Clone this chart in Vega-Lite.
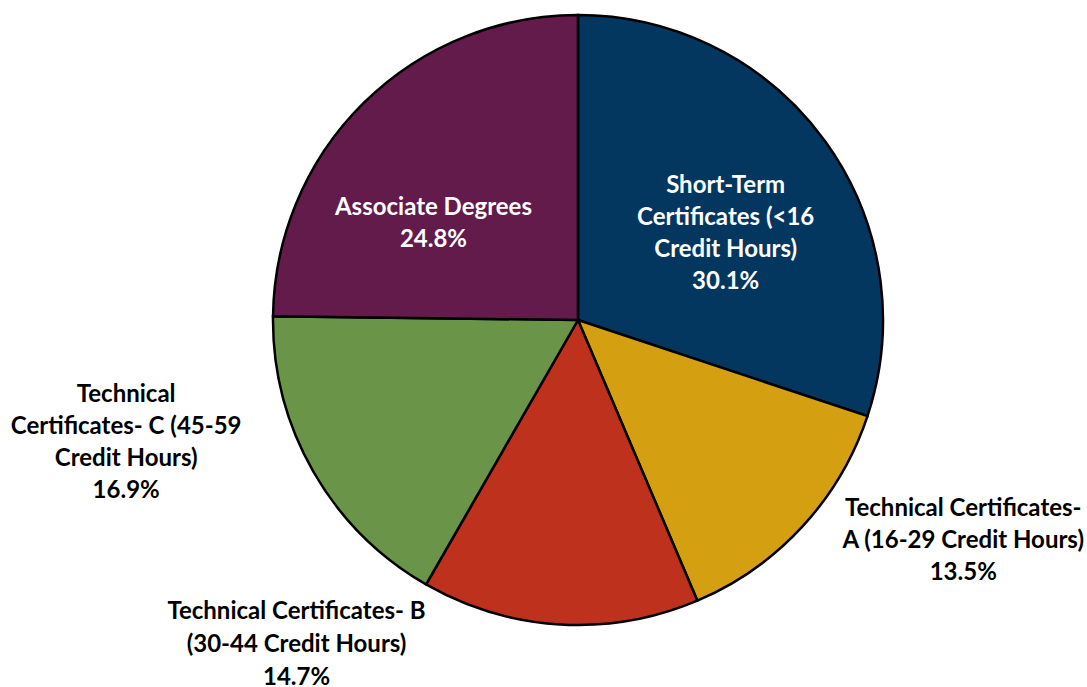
{
  "$schema": "https://vega.github.io/schema/vega-lite/v6.json",
  "autosize": "none",
  "width": 1087,
  "height": 687,
  "padding": 0,
  "background": "white",
  "config": {"view": {"stroke": null}},
  "data": {
    "values": [
      {"idx": 1, "cat": "Short-Term", "value": 30.1, "label": "Short-Term\nCertificates (<16\nCredit Hours)\n30.1%"},
      {"idx": 2, "cat": "TechA", "value": 13.5, "label": "Technical Certificates-\nA (16-29 Credit Hours)\n13.5%"},
      {"idx": 3, "cat": "TechB", "value": 14.7, "label": "Technical Certificates- B\n(30-44 Credit Hours)\n14.7%"},
      {"idx": 4, "cat": "TechC", "value": 16.9, "label": "Technical\nCertificates- C (45-59\nCredit Hours)\n16.9%"},
      {"idx": 5, "cat": "Associate", "value": 24.8, "label": "Associate Degrees\n24.8%"}
    ]
  },
  "encoding": {
    "theta": {"field": "value", "type": "quantitative", "stack": true},
    "order": {"field": "idx", "type": "quantitative"}
  },
  "layer": [
    {
      "mark": {"type": "arc", "x": 578, "y": 320, "outerRadius": 305, "stroke": "black", "strokeWidth": 2.5},
      "encoding": {
        "color": {
          "field": "cat", "type": "nominal", "legend": null,
          "scale": {
            "domain": ["Short-Term", "TechA", "TechB", "TechC", "Associate"],
            "range": ["#03375F", "#D4A012", "#BE311C", "#6A9447", "#621B4B"]
          }
        }
      }
    },
    {
      "mark": {"type": "text", "x": 578, "y": 320, "radius": 171, "dx": 9, "dy": -34, "lineBreak": "\n", "lineHeight": 32, "font": "Lato", "fontWeight": "bold", "fontSize": 24, "align": "center", "baseline": "middle", "color": "white"},
      "encoding": {"text": {"condition": {"test": "datum.cat === 'Short-Term'", "field": "label"}, "value": ""}}
    },
    {
      "mark": {"type": "text", "x": 578, "y": 320, "radius": 173, "dx": -23, "dy": 11, "lineBreak": "\n", "lineHeight": 32, "font": "Lato", "fontWeight": "bold", "fontSize": 24, "align": "center", "baseline": "middle", "color": "white"},
      "encoding": {"text": {"condition": {"test": "datum.cat === 'Associate'", "field": "label"}, "value": ""}}
    },
    {
      "mark": {"type": "text", "x": 578, "y": 320, "radius": 445, "dx": 58, "dy": -113, "lineBreak": "\n", "lineHeight": 32, "font": "Lato", "fontWeight": "bold", "fontSize": 24, "align": "center", "baseline": "middle", "color": "black"},
      "encoding": {"text": {"condition": {"test": "datum.cat === 'TechA'", "field": "label"}, "value": ""}}
    },
    {
      "mark": {"type": "text", "x": 578, "y": 320, "radius": 427, "dx": -256, "dy": -134, "lineBreak": "\n", "lineHeight": 33, "font": "Lato", "fontWeight": "bold", "fontSize": 24, "align": "center", "baseline": "middle", "color": "black"},
      "encoding": {"text": {"condition": {"test": "datum.cat === 'TechB'", "field": "label"}, "value": ""}}
    },
    {
      "mark": {"type": "text", "x": 578, "y": 320, "radius": 458, "dx": -54, "dy": -152, "lineBreak": "\n", "lineHeight": 32, "font": "Lato", "fontWeight": "bold", "fontSize": 24, "align": "center", "baseline": "middle", "color": "black"},
      "encoding": {"text": {"condition": {"test": "datum.cat === 'TechC'", "field": "label"}, "value": ""}}
    }
  ]
}
